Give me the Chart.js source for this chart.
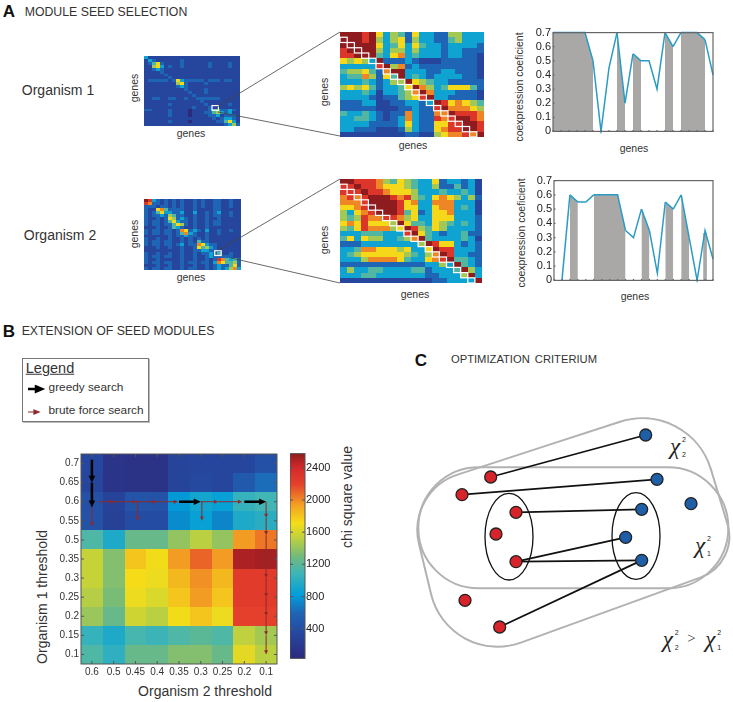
<!DOCTYPE html>
<html>
<head>
<meta charset="utf-8">
<title>Module seed selection</title>
<script src="https://cdn.jsdelivr.net/npm/chart.js@4"></script>
<style>
  html, body { margin: 0; padding: 0; background: #fff; }
  #page { position: relative; width: 733px; height: 702px; overflow: hidden; font-family: 'Liberation Sans', Arial, sans-serif; color: #333; }
  #page canvas { position: absolute; }
  .lbl { position: absolute; white-space: nowrap; transform: translate(-50%, -50%); line-height: 1; }
  .rot { transform: translate(-50%, -50%) rotate(-90deg); }
  .head { font-weight: bold; color: #111; font-size: 17px; }
  .chi { position: relative; display: inline-block; width: 24px; font: italic 23px 'Liberation Serif', serif; color: #222; }
  .chi sup, .chi sub { position: absolute; left: 12px; font: 7px 'Liberation Sans', sans-serif; line-height: 1; }
  .chi sup { top: 2px; }
  .chi sub { top: 17px; }
  #legend { position: absolute; left: 22px; top: 358px; width: 125px; height: 62px; border: 1px solid #777; box-shadow: 1px 1px 0 #bbb; }
</style>
</head>
<body>
<div id="page">
  <div class="lbl head" style="left:9px;top:11px">A</div>
  <div class="lbl" style="left:106px;top:12px;font-size:12.3px">MODULE SEED SELECTION</div>
  <div class="lbl head" style="left:9px;top:331px">B</div>
  <div class="lbl" style="left:118px;top:331px;font-size:12.3px">EXTENSION OF SEED MODULES</div>
  <div class="lbl head" style="left:421px;top:360px">C</div>
  <div class="lbl" style="left:524px;top:360px;font-size:11.2px;word-spacing:2px">OPTIMIZATION CRITERIUM</div>
  <div class="lbl" style="left:58px;top:90px;font-size:14px">Organism 1</div>
  <div class="lbl" style="left:60px;top:235px;font-size:14px">Organism 2</div>

  <div id="legend">
    <div class="lbl" style="left:27px;top:9px;font-size:14.5px;text-decoration:underline">Legend</div>
    <div class="lbl" style="left:63px;top:29px;font-size:11.8px">greedy search</div>
    <div class="lbl" style="left:73px;top:52px;font-size:11.8px">brute force search</div>
    <svg width="125" height="62" style="position:absolute;left:0;top:0">
      <path d="M5 30 H13 M13 27.5 L19 30 L13 32.5 Z" stroke="#000" stroke-width="2.5" fill="#000"/>
      <path d="M5 53 H12 M11 51 L16 53 L11 55 Z" stroke="#8e2a2a" stroke-width="1.2" fill="#8e2a2a"/>
    </svg>
  </div>

  <svg width="733" height="702" style="position:absolute;left:0;top:0;z-index:5;pointer-events:none">
    <g stroke="#444" stroke-width="0.8">
      <line x1="217" y1="107" x2="340" y2="32"/>
      <line x1="218" y1="112" x2="340" y2="136"/>
      <line x1="219" y1="250" x2="340" y2="179"/>
      <line x1="231" y1="258" x2="340" y2="283"/>
    </g>
  </svg>

  <div class="lbl rot" style="left:134px;top:88px;font-size:10.5px">genes</div>
  <div class="lbl" style="left:191px;top:133px;font-size:10.5px">genes</div>
  <div class="lbl rot" style="left:134px;top:234px;font-size:10.5px">genes</div>
  <div class="lbl" style="left:191px;top:277px;font-size:10.5px">genes</div>
  <div class="lbl rot" style="left:324px;top:92px;font-size:10.5px">genes</div>
  <div class="lbl" style="left:413px;top:145px;font-size:10.5px">genes</div>
  <div class="lbl rot" style="left:324px;top:240px;font-size:10.5px">genes</div>
  <div class="lbl" style="left:415px;top:294px;font-size:10.5px">genes</div>
  <div class="lbl rot" style="left:519px;top:87px;font-size:10.5px">coexpression coeficient</div>
  <div class="lbl" style="left:634px;top:148px;font-size:10.5px">genes</div>
  <div class="lbl rot" style="left:521px;top:233px;font-size:10.5px">coexpression coeficient</div>
  <div class="lbl" style="left:635px;top:296px;font-size:10.5px">genes</div>
  <div class="lbl rot" style="left:42px;top:597px;font-size:14px">Organism 1 threshold</div>
  <div class="lbl" style="left:205px;top:691px;font-size:14px">Organism 2 threshold</div>
  <div class="lbl rot" style="left:347px;top:497px;font-size:14px">chi square value</div>

  <div class="lbl" style="left:682px;top:447px"><span class="chi"><i>χ</i><sup>2</sup><sub>2</sub></span></div>
  <div class="lbl" style="left:707px;top:546px"><span class="chi"><i>χ</i><sup>2</sup><sub>1</sub></span></div>
  <div class="lbl" style="left:696px;top:640px"><span class="chi"><i>χ</i><sup>2</sup><sub>2</sub></span> <span style="font:15px 'Liberation Serif',serif;position:relative;top:-4px;margin:0 5px 0 -4px">&gt;</span> <span class="chi"><i>χ</i><sup>2</sup><sub>1</sub></span></div>
</div>

<script>
// Panel A - heatmap levels, one digit per cell (0 = navy, 9 = dark red)
const organism1Overview = [
  "311111111111111111111111", "132111111211111111111111", "124621111211111121111211", "115631211211111121111211",
  "112321111111111111111111", "111121111111111111111111", "111112111111111111111111", "111111211111111111111111",
  "122222126322222122212211", "111111115621111211111111", "111111112321111111111111", "111111111121111211111111",
  "111111111112111211111111", "111111111111211111111111", "112211221121122222211111", "111111111111112111111111",
  "111111211111111211111211", "111111111111211121111111", "221111211110111124422321", "111111211110111224532311",
  "111111211110111122312221", "111111111111111112123321", "111111211110111111224631", "111111111111111111112352"
];
const organism2Overview = [
  "983212121211212112211211", "872212121211212112211211", "222122121211212112211211", "211674222211211112211111",
  "212463322311311212311211", "212232542211211212211211", "211212652321211211211111", "212212463221211212211111",
  "212212246521211212211111", "111211243211211211111111", "212212212762321311211211", "212212212473211211211111",
  "111111212232211211111111", "211211211212121211111111", "212212211212142211111111", "212212212312276322111111",
  "111211211211264532111111", "111111111211223322111111", "211211211211212232411211", "212212211211211232222211",
  "211211111211211212874342", "212212211212212213764452", "111211211211211212322462", "212212211212211212323573"
];
const organism1Seed = [
  "99989635426332255333", "99989535625332245333", "99999634636433233332", "89999535535333233222",
  "88999436734333233221", "65653922232111222221", "33333895723222222221", "45564279933322332221",
  "34475264934323333221", "33343235596543322222", "56564233469753466642", "33343133457973332221",
  "33332122456893322221", "22233112233239867654", "22222111223228977765", "43343212273227798887",
  "33443212373228789987", "33332222363226688998", "33222111253226788998", "11111111122115677879"
];
const organism2Seed = [
  "99888754654336233231", "88988766654335224231", "88898876665333433431", "78789998785436765352",
  "77789999867337773331", "66789999866336773431", "53678999846236673331", "54587788756336663332",
  "67686665964436543432", "54687775698546533332", "33344433389643233422", "46365533457943333431",
  "22233333333598663232", "33477666563369883332", "34566666654357983322", "33357777643367894432",
  "22222222222233539432", "35334433334423334953", "33344333333322333593", "11111111111112233339"
];
const seedSteps = [0, 1, 2, 3, 4, 5, 6, 7, 8, 9, 10, 11, 12, 13, 14, 15, 16, 17, 18];

// Panel A - coexpression profiles
const genesAxis = [0, 1, 2, 3, 4, 5, 6, 7, 8, 9, 10, 11, 12, 13, 14, 15, 16, 17, 18, 19, 20];
const coexpressionTicks = [0, 0.1, 0.2, 0.3, 0.4, 0.5, 0.6, 0.7];
const coexpression1 = [0.7, 0.7, 0.7, 0.7, 0.7, 0.5, 0, 0.45, 0.7, 0.2, 0.55, 0.5, 0.5, 0.3, 0.7, 0.6, 0.7, 0.7, 0.7, 0.65, 0.4];
const coexpression2 = [null, 0, 0.6, 0.55, 0.55, 0.6, 0.6, 0.6, 0.6, 0.35, 0.3, 0.5, 0.35, 0.05, 0.55, 0.5, 0.6, 0.3, 0, 0.35, 0.15];
const shaded1 = [0, 1, 2, 3, 4, 8, 10, 14, 16, 17, 18];
const shaded2 = [2, 5, 6, 7, 8, 11, 14, 16];
const narrowBars1 = [];
const narrowBars2 = [null, null, null, null, null, null, null, null, null, null, null, null, null, null, null, null, null, null, null, 0.33, null];

// Panel B - chi square grid, rows top to bottom
const organism2Thresholds = ['0.6', '0.5', '0.45', '0.4', '0.35', '0.3', '0.25', '0.2', '0.1'];
const organism1Thresholds = ['0.7', '0.65', '0.6', '0.55', '0.5', '0.35', '0.3', '0.25', '0.2', '0.15', '0.1'];
const chiSquare = [
  [340, 150, 120, 120, 300, 330, 320, 330, 420],
  [320, 150, 120, 120, 300, 350, 330, 500, 620],
  [420, 280, 450, 430, 800, 900, 850, 1050, 1100],
  [430, 270, 380, 380, 750, 850, 720, 950, 1000],
  [1150, 950, 1250, 1250, 1400, 1520, 1400, 1950, 2050],
  [1550, 1350, 1800, 1700, 1950, 2100, 1950, 2500, 2520],
  [1550, 1350, 1720, 1680, 1850, 1980, 1850, 2250, 2250],
  [1500, 1320, 1680, 1620, 1800, 1950, 1800, 2250, 2250],
  [1420, 1250, 1580, 1520, 1700, 1800, 1680, 2200, 2200],
  [1050, 950, 1120, 1080, 1150, 1200, 1150, 1530, 1450],
  [1150, 1020, 1250, 1250, 1350, 1350, 1250, 1650, 1520]
];
const chiMin = 30;
const chiMax = 2577;
const chiTicks = [400, 800, 1200, 1600, 2000, 2400];
// search paths as [col, row, col, row] on the threshold grid
const greedyArrows = [[0, -0.2, 0, 1], [0, 1, 0, 2.3], [4, 2, 5, 2], [7, 2, 8, 2]];
const bruteArrows = [
  [0.3, 2, 1.05, 2], [1, 2, 2.05, 2], [2, 2, 2.95, 2], [2.9, 2, 3.95, 2], [5, 2, 5.8, 2], [5.8, 2, 6.9, 2],
  [0, 2.3, 0, 3.3], [2.1, 2, 2.1, 3], [5.05, 2, 5.05, 3],
  [8, 2, 8, 2.85], [8, 2.85, 8, 3.75], [8, 3.75, 8, 4.8], [8, 4.8, 8, 6], [8, 6, 8, 7], [8, 7, 8, 8], [8, 8, 8, 9], [8, 9, 8, 10]
];

// Panel C - graph, x/y in diagram units
const redNodes = [[272, 411], [186, 464], [348, 517], [288, 582], [348, 665], [195, 781], [299, 861]];
const blueNodes = [[737, 285], [771, 418], [873, 491], [725, 508], [677, 592], [725, 661]];
const links = [[0, 0], [1, 1], [2, 3], [4, 4], [4, 5], [6, 5]];
// hull outlines: corner x, corner y, corner radius
const outerHull = [[869, 177, 215], [1018, 670, 130], [147, 986, 205], [19, 454, 175]];
const innerHull = [[985, 382, 181], [985, 745, 181], [55, 745, 181], [55, 382, 181]];
const modules = [[327, 590, 72, 130], [708, 588, 72, 130]];

Chart.defaults.font.family = "'Liberation Sans', Arial, sans-serif";
Chart.defaults.color = '#333';
Chart.defaults.animation = false;
Chart.defaults.responsive = false;
Chart.defaults.plugins.legend.display = false;
Chart.defaults.plugins.tooltip.enabled = false;

const colorStops = [
  [0, '#2c2a7c'], [0.12, '#26479f'], [0.22, '#1f64b4'], [0.31, '#009ed9'], [0.42, '#41b6b4'], [0.5, '#74ba7a'],
  [0.6, '#c8d436'], [0.66, '#f5dd18'], [0.75, '#f3a024'], [0.85, '#e4412b'], [0.93, '#d42a2a'], [1, '#8e1c1f']
];

const hexToRgb = (hex) => [1, 3, 5].map(i => parseInt(hex.slice(i, i + 2), 16));

const colorAt = (t) => {
  t = Math.max(0, Math.min(1, t));
  let i = 0;
  while (i < colorStops.length - 2 && t > colorStops[i + 1][0]) i++;
  const [t0, c0] = colorStops[i];
  const [t1, c1] = colorStops[i + 1];
  const a = hexToRgb(c0);
  const b = hexToRgb(c1);
  const f = (t - t0) / (t1 - t0);
  return 'rgb(' + a.map((v, k) => Math.round(v + (b[k] - v) * f)).join(',') + ')';
};

const levelCells = (rows) => rows.flatMap((row, r) => [...row].map((ch, c) => ({ x: c, y: r, v: +ch })));
const valueCells = (rows) => rows.flatMap((row, r) => row.map((v, c) => ({ x: c, y: r, v })));

// Canvas around a plot box; margins leave room for the tick labels
const addChart = (box, margin, config) => {
  const canvas = document.createElement('canvas');
  canvas.width = box.x1 - box.x0 + margin.l + margin.r;
  canvas.height = box.y1 - box.y0 + margin.t + margin.b;
  canvas.style.left = (box.x0 - margin.l) + 'px';
  canvas.style.top = (box.y0 - margin.t) + 'px';
  document.getElementById('page').appendChild(canvas);
  const { x, y } = config.options.scales;
  const rightAxis = y.position === 'right';
  config.options.layout = { autoPadding: false, padding: { top: margin.t, right: rightAxis ? 0 : margin.r, left: 0, bottom: margin.b && x.display === false ? margin.b : 0 } };
  if (x.display !== false) x.afterFit = (s) => { s.height = margin.b; };
  if (y.display !== false) y.afterFit = (s) => { s.width = rightAxis ? margin.r : margin.l; };
  return new Chart(canvas, config);
};

// Draws the first dataset as grid cells, through the chart's scales
const cellLayer = (toColor) => ({
  id: 'cellLayer',
  beforeDatasetsDraw(chart) {
    const { ctx, scales: { x, y } } = chart;
    ctx.save();
    chart.data.datasets[0].data.forEach(cell => {
      const x0 = Math.round(x.getPixelForValue(cell.x - 0.5));
      const x1 = Math.round(x.getPixelForValue(cell.x + 0.5));
      const y0 = Math.round(y.getPixelForValue(cell.y - 0.5));
      const y1 = Math.round(y.getPixelForValue(cell.y + 0.5));
      ctx.fillStyle = toColor(cell.v);
      ctx.fillRect(x0, y0, x1 - x0, y1 - y0);
    });
    ctx.restore();
  }
});

// White squares marking the seed, each [col, row, size] on the grid
const seedLayer = (squares) => ({
  id: 'seedLayer',
  afterDatasetsDraw(chart) {
    const { ctx, scales: { x, y } } = chart;
    ctx.save();
    ctx.strokeStyle = '#fff';
    ctx.lineWidth = 1.2;
    squares.forEach(([c, r, size]) => {
      const x0 = x.getPixelForValue(c - 0.5);
      const y0 = y.getPixelForValue(r - 0.5);
      ctx.strokeRect(x0, y0, x.getPixelForValue(c - 0.5 + size) - x0, y.getPixelForValue(r - 0.5 + size) - y0);
    });
    ctx.restore();
  }
});

// Box round the plot, with short inward ticks
const frameLayer = (color, width, tickLen, mirror) => ({
  id: 'frameLayer',
  afterDatasetsDraw(chart) {
    const { ctx, chartArea: a, scales: { x, y } } = chart;
    ctx.save();
    ctx.strokeStyle = color;
    ctx.lineWidth = width;
    ctx.strokeRect(a.left, a.top, a.right - a.left, a.bottom - a.top);
    ctx.beginPath();
    if (x.options.display !== false && tickLen) {
      x.ticks.forEach(t => {
        const px = x.getPixelForValue(t.value);
        ctx.moveTo(px, a.bottom);
        ctx.lineTo(px, a.bottom - tickLen);
        if (mirror) {
          ctx.moveTo(px, a.top);
          ctx.lineTo(px, a.top + tickLen);
        }
      });
    }
    if (tickLen) {
      y.ticks.forEach(t => {
        const py = y.getPixelForValue(t.value);
        ctx.moveTo(a.left, py);
        ctx.lineTo(a.left + tickLen, py);
        if (mirror) {
          ctx.moveTo(a.right, py);
          ctx.lineTo(a.right - tickLen, py);
        }
      });
    }
    ctx.stroke();
    ctx.restore();
  }
});

const gridScales = (labelsX, labelsY, fontSize) => {
  const axis = (labels, reverse) => ({
    type: 'linear',
    min: -0.5,
    max: labels.length - 0.5,
    reverse,
    grid: { display: false, drawTicks: false },
    border: { display: false },
    afterBuildTicks: (s) => { s.ticks = labels.map((_, i) => ({ value: i })); },
    ticks: {
      display: fontSize > 0,
      autoSkip: false,
      maxRotation: 0,
      padding: 2,
      font: { size: fontSize || 10 },
      callback: (v) => labels[v]
    }
  });
  return { x: axis(labelsX, false), y: axis(labelsY, true) };
};

// 1. Gene by gene heatmaps of panel A
const blankLabels = (n) => Array.from({ length: n }, () => '');

const createGeneHeatmap = (box, rows, squares) => {
  const n = rows.length;
  return addChart(box, { l: 0, t: 0, r: 0, b: 0 }, {
    type: 'scatter',
    data: { datasets: [{ data: levelCells(rows), pointRadius: 0 }] },
    options: { scales: gridScales(blankLabels(n), blankLabels(n), 0) },
    plugins: [cellLayer(v => colorAt(v / 9)), seedLayer(squares)]
  });
};

const overview1 = createGeneHeatmap({ x0: 144, x1: 240, y0: 56, y1: 126 }, organism1Overview, [[17, 17, 1.6]]);
const overview2 = createGeneHeatmap({ x0: 144, x1: 241, y0: 199, y1: 270 }, organism2Overview, [[17.5, 17.5, 1.6]]);
overview1.canvas.style.filter = 'blur(0.5px)';
overview2.canvas.style.filter = 'blur(0.5px)';
createGeneHeatmap({ x0: 340, x1: 484, y0: 32, y1: 137 }, organism1Seed, seedSteps.map(i => [i, i + 1, 1]));
createGeneHeatmap({ x0: 340, x1: 482, y0: 179, y1: 283 }, organism2Seed, seedSteps.map(i => [i, i + 1, 1]));

// 2. Coexpression profiles with the module genes shaded
const createProfile = (box, values, shaded, narrow) => addChart(box, { l: 36, t: 6, r: 3, b: 2 }, {
  type: 'line',
  data: {
    labels: genesAxis,
    datasets: [
      {
        data: values,
        borderColor: '#2a9cc4',
        borderWidth: 1.5,
        tension: 0,
        pointRadius: 0,
        fill: 'origin',
        clip: 2,
        segment: {
          backgroundColor: (ctx) => shaded.includes(ctx.p0DataIndex) ? '#a9a8a7' : 'rgba(255,255,255,0)'
        }
      },
      { type: 'bar', data: narrow, backgroundColor: '#a9a8a7', barThickness: 3 }
    ]
  },
  options: {
    scales: {
      x: { offset: false, grid: { display: false, drawTicks: false }, border: { display: false }, ticks: { display: false } },
      y: {
        min: 0,
        max: 0.7,
        grid: { display: false, drawTicks: false },
        border: { display: false },
        afterBuildTicks: (s) => { s.ticks = coexpressionTicks.map(value => ({ value })); },
        ticks: { autoSkip: false, padding: 2, font: { size: 11 }, color: '#222', callback: (v) => v === 0 ? '0' : v.toFixed(1) }
      }
    }
  },
  plugins: [frameLayer('#666', 1.2, 1.5, false)]
});

createProfile({ x0: 553, x1: 713, y0: 30, y1: 138 }, coexpression1, shaded1, narrowBars1);
createProfile({ x0: 554, x1: 713, y0: 178, y1: 287 }, coexpression2, shaded2, narrowBars2);

// 3. Threshold search grid of panel B
const arrowLayer = {
  id: 'arrowLayer',
  afterDatasetsDraw(chart) {
    const { ctx, scales: { x, y } } = chart;
    const draw = (arrows, color, width, head) => {
      ctx.strokeStyle = color;
      ctx.fillStyle = color;
      ctx.lineWidth = width;
      arrows.forEach(([c0, r0, c1, r1]) => {
        const xa = x.getPixelForValue(c0);
        const ya = y.getPixelForValue(r0);
        const xb = x.getPixelForValue(c1);
        const yb = y.getPixelForValue(r1);
        const angle = Math.atan2(yb - ya, xb - xa);
        ctx.beginPath();
        ctx.moveTo(xa, ya);
        ctx.lineTo(xb - Math.cos(angle) * head, yb - Math.sin(angle) * head);
        ctx.stroke();
        ctx.save();
        ctx.translate(xb, yb);
        ctx.rotate(angle);
        ctx.beginPath();
        ctx.moveTo(0, 0);
        ctx.lineTo(-head * 1.4, -head * 0.65);
        ctx.lineTo(-head * 1.4, head * 0.65);
        ctx.closePath();
        ctx.fill();
        ctx.restore();
      });
    };
    ctx.save();
    draw(bruteArrows, '#8e2a2a', 1, 3);
    draw(greedyArrows, '#000', 2.5, 5);
    ctx.restore();
  }
};

addChart({ x0: 81, x1: 277, y0: 448, y1: 664 }, { l: 30, t: 2, r: 2, b: 14 }, {
  type: 'scatter',
  data: { datasets: [{ data: valueCells(chiSquare), pointRadius: 0 }] },
  options: { scales: gridScales(organism2Thresholds, organism1Thresholds, 10) },
  plugins: [cellLayer(v => colorAt((v - chiMin) / (chiMax - chiMin))), frameLayer('#555', 1, 3, true), arrowLayer]
});

// 4. Colour bar
const colorBarLayer = {
  id: 'colorBarLayer',
  beforeDatasetsDraw(chart) {
    const { ctx, chartArea: a, scales: { y } } = chart;
    const gradient = ctx.createLinearGradient(0, y.getPixelForValue(chiMin), 0, y.getPixelForValue(chiMax));
    colorStops.forEach(([t, c]) => gradient.addColorStop(t, c));
    ctx.save();
    ctx.fillStyle = gradient;
    ctx.fillRect(a.left, a.top, a.right - a.left, a.bottom - a.top);
    ctx.restore();
  }
};

addChart({ x0: 290, x1: 305, y0: 448, y1: 664 }, { l: 0, t: 2, r: 30, b: 2 }, {
  type: 'scatter',
  data: { datasets: [{ data: [], pointRadius: 0 }] },
  options: {
    scales: {
      x: { display: false },
      y: {
        position: 'right',
        min: chiMin,
        max: chiMax,
        grid: { display: false, drawTicks: false },
        border: { display: false },
        afterBuildTicks: (s) => { s.ticks = chiTicks.map(value => ({ value })); },
        ticks: { autoSkip: false, padding: 1, font: { size: 11 }, color: '#222', callback: (v) => String(v) }
      }
    }
  },
  plugins: [colorBarLayer, frameLayer('#555', 1, 3, true)]
});

// 5. Optimization graph of panel C
const toPoints = (pairs) => pairs.map(([x, y]) => ({ x, y }));

const outlineLayer = {
  id: 'outlineLayer',
  beforeDatasetsDraw(chart) {
    const { ctx, scales: { x, y } } = chart;
    const px = (v) => x.getPixelForValue(v);
    const py = (v) => y.getPixelForValue(v);
    ctx.save();
    // rounded hulls
    ctx.strokeStyle = '#b2b2b2';
    ctx.lineWidth = 2;
    [innerHull, outerHull].forEach(hull => {
      const first = hull[0];
      const last = hull[hull.length - 1];
      ctx.beginPath();
      ctx.moveTo((px(first[0]) + px(last[0])) / 2, (py(first[1]) + py(last[1])) / 2);
      hull.forEach((corner, i) => {
        const next = hull[(i + 1) % hull.length];
        ctx.arcTo(px(corner[0]), py(corner[1]), px(next[0]), py(next[1]), corner[2] * (px(1) - px(0)));
      });
      ctx.closePath();
      ctx.stroke();
    });
    // module ellipses
    ctx.strokeStyle = '#111';
    ctx.lineWidth = 1.3;
    modules.forEach(([cx, cy, rx, ry]) => {
      ctx.beginPath();
      ctx.ellipse(px(cx), py(cy), px(cx + rx) - px(cx), py(cy + ry) - py(cy), 0, 0, Math.PI * 2);
      ctx.stroke();
    });
    ctx.restore();
  }
};

const linkDatasets = links.map(([r, b]) => ({
  data: toPoints([redNodes[r], blueNodes[b]]),
  showLine: true,
  borderColor: '#111',
  borderWidth: 1.8,
  pointRadius: 0
}));

const nodeDataset = (pairs, color) => ({
  data: toPoints(pairs),
  backgroundColor: color,
  borderColor: '#222',
  borderWidth: 1.3,
  pointRadius: 6
});

addChart({ x0: 400, x1: 733, y0: 340, y1: 680 }, { l: 0, t: 0, r: 0, b: 0 }, {
  type: 'scatter',
  data: {
    datasets: [
      nodeDataset(redNodes, '#d8232a'),
      nodeDataset(blueNodes, '#1f5fa8'),
      ...linkDatasets
    ]
  },
  options: {
    scales: {
      x: { type: 'linear', display: false, min: 0, max: 999 },
      y: { type: 'linear', display: false, min: 0, max: 1020, reverse: true }
    }
  },
  plugins: [outlineLayer]
});
</script>
</body>
</html>
